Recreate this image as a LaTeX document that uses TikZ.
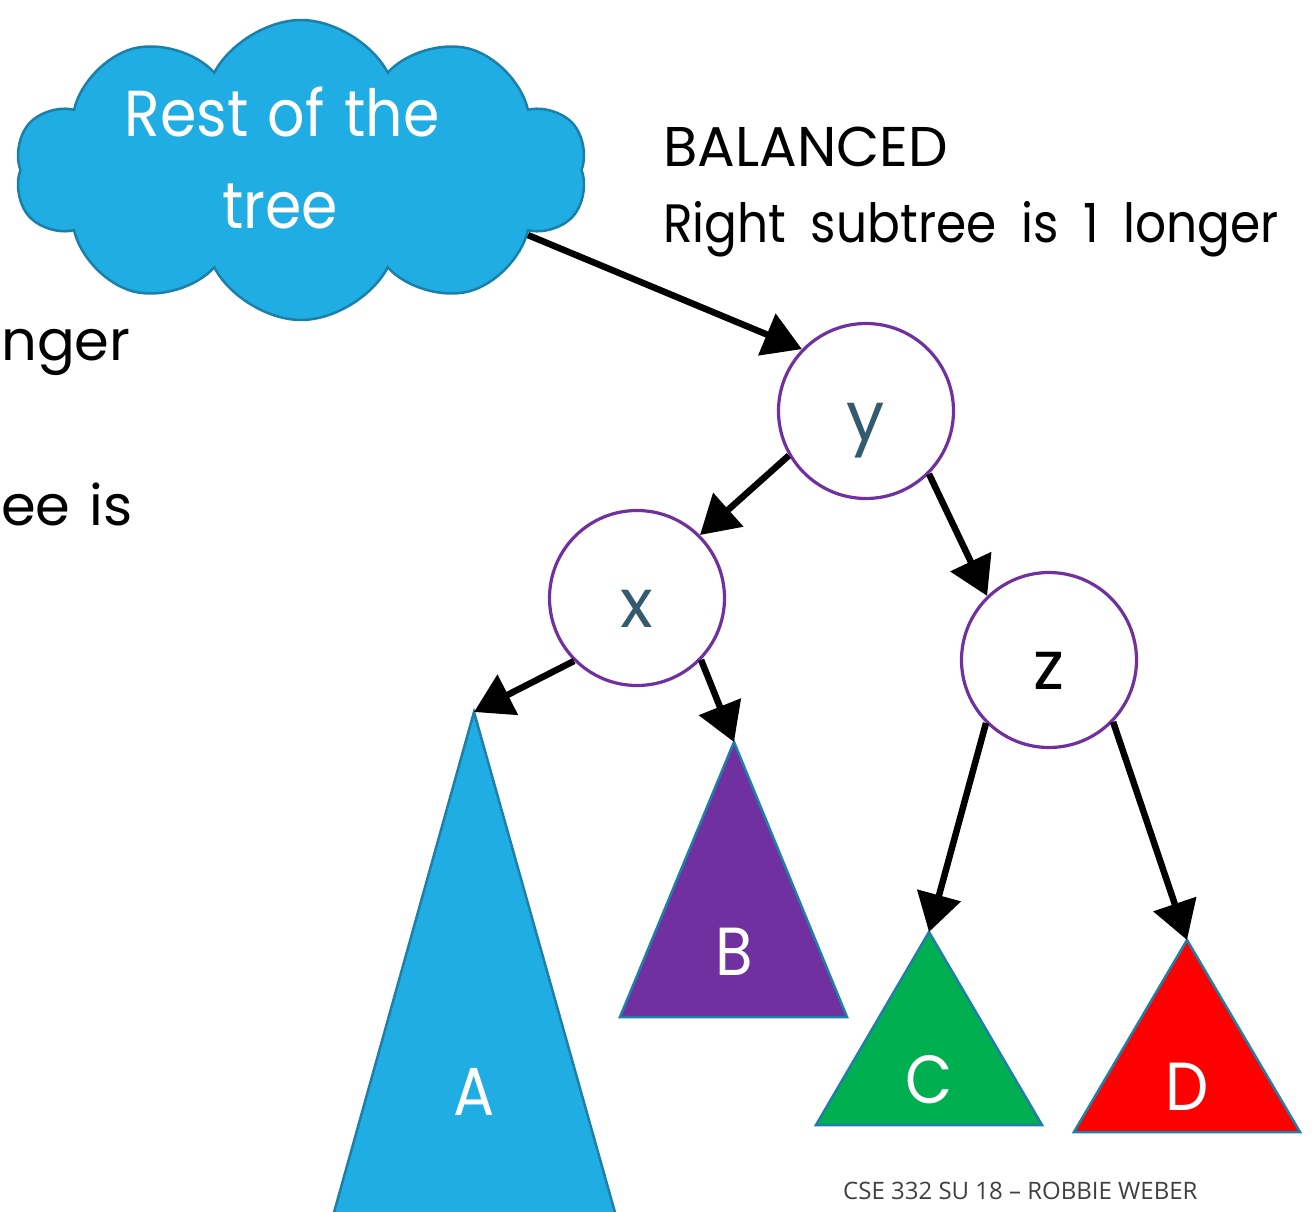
\documentclass[tikz,border=0pt]{standalone}
\usepackage{fontspec}
\setmainfont{Poppins}
\newfontfamily\futf[FakeStretch=0.9,WordSpace=1.9]{Poppins}
\newfontfamily\futc[FakeStretch=0.901,WordSpace=1.25]{Poppins}
\newfontfamily\futw[FakeStretch=0.999,WordSpace=1.3]{Poppins}
\newfontfamily\footf{Open Sans}
\usetikzlibrary{arrows.meta,shapes.symbols}
\definecolor{cloudfill}{HTML}{1FADE3}
\definecolor{cloudedge}{HTML}{1A80AA}
\definecolor{nodepurple}{HTML}{7030A0}
\definecolor{nodetext}{HTML}{345A70}
\definecolor{triedge}{HTML}{1F7FA8}
\definecolor{triA}{HTML}{1FADE3}
\definecolor{triB}{HTML}{7030A0}
\definecolor{triC}{HTML}{00B050}
\definecolor{triD}{HTML}{FF0000}
\definecolor{foottext}{HTML}{404040}
\begin{document}
\begin{tikzpicture}[x=1pt,y=-1pt,
  treenode/.style={circle, draw=nodepurple, line width=3.2pt, fill=white, minimum size=175pt, inner sep=0pt, text height=58pt, text depth=0pt, font=\futw\fontsize{68}{68}\selectfont, text=nodetext},
  arr/.style={line width=6.5pt, -{Triangle[length=38pt,width=44pt]}},
  subtree/.style={draw=triedge, line width=2.5pt, line join=miter},
  trilabel/.style={text=white, font=\futf\fontsize{68}{68}\selectfont, anchor=base, inner sep=0pt},
  bigtext/.style={font=\futf\fontsize{54}{54}\selectfont, inner sep=0pt},
  widetext/.style={font=\futw\fontsize{56}{56}\selectfont, inner sep=0pt},
  cloudtext/.style={text=white, font=\futc\fontsize{65}{65}\selectfont, anchor=base, inner sep=0pt},
  ]
\useasboundingbox (0,0) rectangle (1312,1212);

% subtrees
\coordinate (Atop) at (474,712);
\coordinate (Btop) at (734,742);
\coordinate (Ctop) at (929,932);
\coordinate (Dtop) at (1187,940);
\draw[subtree, fill=triA] (Atop) -- (616,1216) -- (333,1216) -- cycle;
\draw[subtree, fill=triB] (Btop) -- (847,1017) -- (620,1017) -- cycle;
\draw[subtree, fill=triC] (Ctop) -- (1042,1125) -- (816,1125) -- cycle;
\draw[subtree, fill=triD] (Dtop) -- (1300,1132) -- (1074,1132) -- cycle;
\node[trilabel] (labA) at (474,1115) {A};
\node[trilabel] (labB) at (734,975) {B};
\node[trilabel] (labC) at (929,1103) {C};
\node[trilabel] (labD) at (1187,1110) {D};

% cloud
\node[cloud, cloud puffs=10, cloud puff arc=125, aspect=1.9, fill=cloudfill, draw=cloudedge, line width=2.5pt, minimum width=572pt, minimum height=300pt, inner sep=0pt] (cloud) at (301,170) {};
\node[cloudtext] (ct1) at (282,137) {Rest of the};
\node[cloudtext] (ct2) at (280,228) {tree};

% tree nodes
\node[treenode] (y) at (866,411) {y};
\node[treenode] (x) at (637,598) {x};
\node[treenode, text=black] (z) at (1049,660) {z};

% connectors
\draw[arr] (cloud.-16) -- (y.136);
\draw[arr] (y.210) -- (x.45);
\draw[arr] (y.-45) -- (z.134);
\draw[arr] (x.225) -- (Atop);
\draw[arr] (x.-44) -- (Btop);
\draw[arr] (z.225) -- (Ctop);
\draw[arr] (z.-44) -- (Dtop);

% texts
\node[widetext, anchor=base west] (bal) at (663,167) {BALANCED};
\node[bigtext, anchor=base west] (rst) at (663,242) {Right subtree is 1 longer};
\node[widetext, anchor=base west] (lft1) at (1,360) {nger};
\node[widetext, anchor=base west] (lft2) at (1,525) {ee is};
\node[font=\footf\fontsize{24}{24}\selectfont, text=foottext, anchor=base west, inner sep=0pt] (foot) at (843,1199) {CSE 332 SU 18 – ROBBIE WEBER};
\end{tikzpicture}
\end{document}
